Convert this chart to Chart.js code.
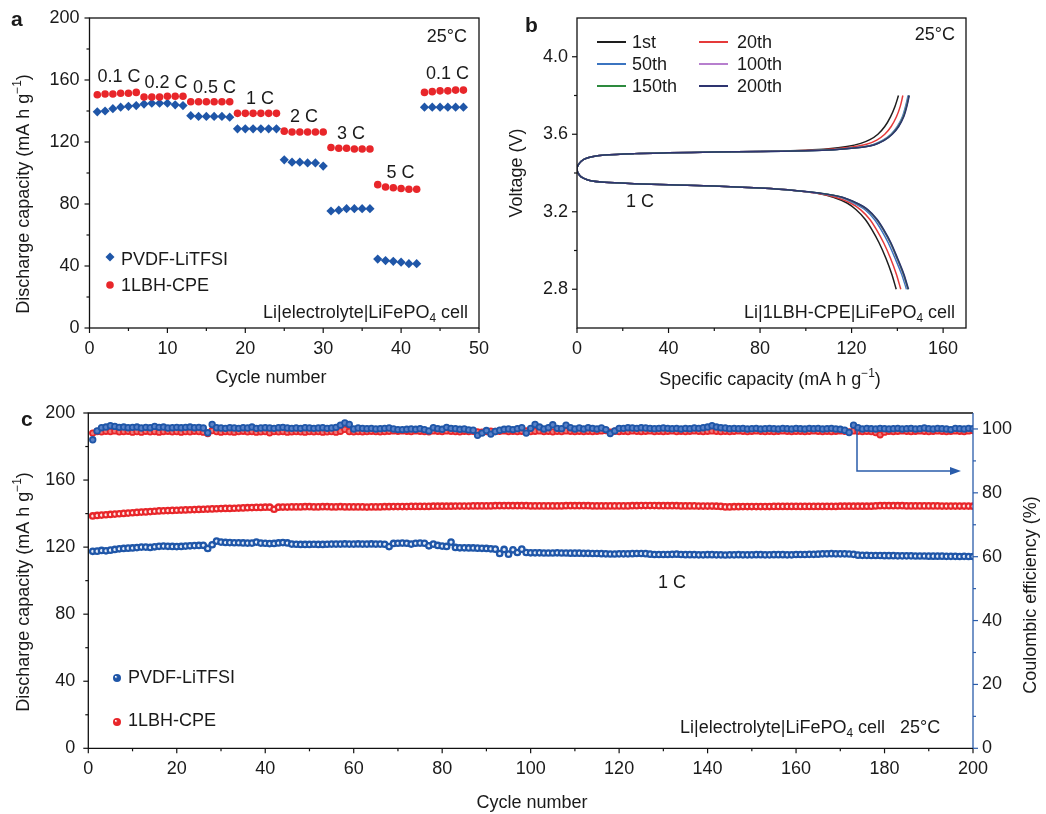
<!DOCTYPE html>
<html><head><meta charset="utf-8">
<script src="https://cdn.jsdelivr.net/npm/chart.js@4.4.1/dist/chart.umd.min.js"></script>
<style>
html,body{margin:0;padding:0;background:#fff;width:1046px;height:814px;overflow:hidden;}
canvas{position:absolute;}
#ca{left:0;top:0;} #cb{left:505px;top:0;} #cc{left:0;top:400px;}
</style></head><body>
<canvas id="ca" width="505" height="400"></canvas>
<canvas id="cb" width="541" height="400"></canvas>
<canvas id="cc" width="1046" height="414"></canvas>
<script>
// ---------------- DATA ----------------
// Panel a: rate capability
const cyclesA = [1,2,3,4,5,6,7,8,9,10,11,12,13,14,15,16,17,18,19,20,21,22,23,24,25,26,27,28,29,30,31,32,33,34,35,36,37,38,39,40,41,42,43,44,45,46,47,48];
const pvdfRate = [139.5,140.0,141.5,142.5,143.0,143.5, 144.5,145.0,145.0,145.0,144.0,143.5, 137.0,136.5,136.5,136.5,136.5,136.0, 128.5,128.5,128.5,128.5,128.5,128.5, 108.5,107.0,107.0,106.5,106.5,104.5, 75.5,76.0,77.0,77.0,77.0,77.0, 44.5,43.5,43.0,42.5,41.5,41.5, 142.5,142.5,142.5,142.5,142.5,142.5];
const lbhRate = [150.5,151.0,151.0,151.5,151.5,152.0, 149.0,149.0,149.0,149.5,149.5,149.5, 146.0,146.0,146.0,146.0,146.0,146.0, 138.5,138.5,138.5,138.5,138.5,138.5, 127.0,126.5,126.5,126.5,126.5,126.5, 116.5,116.0,116.0,115.5,115.5,115.5, 92.5,91.0,90.5,90.0,89.5,89.5, 152.0,152.5,153.0,153.0,153.5,153.5];
const rateLabels = ['0.1 C','0.2 C','0.5 C','1 C','2 C','3 C','5 C','0.1 C'];

// Panel b: charge/discharge profiles (capacity, voltage)
const vDis = [3.42,3.39,3.372,3.36,3.352,3.345,3.339,3.333,3.322,3.31,3.295,3.275,3.245,3.21,3.16,3.105,3.04,2.96,2.88,2.80];
const capDis1 = [0,1,3,6,12,25,40,60,80,95,105,112,118,122,126,129,132,135,137.5,139.5];
const capDis20 = [0,1,3,6,12,25,40,60,80,95,105,113,119.5,124,128,131,134,137,139.5,141.5];
const capDis50 = [0,1,3,6,12,25,40,60,80,95,106,115,121,126,130,133,136,139,141.8,144.0];
const capDis100 = [0,1,3,6,12,25,40,60,80,95,106.5,115.5,121.8,126.8,130.8,133.8,136.8,139.7,142.4,144.5];
const capDis150 = [0,1,3,6,12,25,40,60,80,95,106.5,115.8,122,127,131,134,137,139.9,142.6,144.7];
const capDis200 = [0,1,3,6,12,25,40,60,80,95,106.5,116,122.2,127.2,131.2,134.2,137.2,140.1,142.8,144.9];
const vCha1 = [3.42,3.45,3.47,3.483,3.493,3.5,3.504,3.508,3.511,3.518,3.525,3.537,3.553,3.572,3.6,3.64,3.69,3.745,3.80];
const capCha1 = [0,1,3,6,12,25,40,60,80,100,110,118,124,128,131.5,134.5,137,139,140.5];
const vCha20 = [3.42,3.45,3.47,3.483,3.493,3.5,3.504,3.508,3.511,3.516,3.522,3.533,3.548,3.57,3.6,3.64,3.69,3.745,3.80];
const capCha20 = [0,1,3,6,12,25,40,60,80,100,110,119.5,126.5,131,134.5,137.3,139.6,141.3,142.4];
const vChaLate = [3.42,3.45,3.47,3.483,3.493,3.5,3.504,3.508,3.511,3.515,3.52,3.53,3.545,3.568,3.6,3.64,3.69,3.745,3.80];
const capCha50 = [0,1,3,6,12,25,40,60,80,100,112,121.5,129,133.5,137.2,140,142.2,143.6,144.7];
const capCha100 = [0,1,3,6,12,25,40,60,80,100,112,122,129.5,134,137.5,140.3,142.5,143.9,145.0];
const capCha150 = [0,1,3,6,12,25,40,60,80,100,112,122.1,129.6,134.1,137.6,140.4,142.6,144.0,145.1];
const capCha200 = [0,1,3,6,12,25,40,60,80,100,112.5,122.3,129.8,134.3,137.8,140.6,142.8,144.2,145.2];
const profileNames = ['1st','20th','50th','100th','150th','200th'];

// Panel c: long cycling at 1 C
const cyclesC = Array.from({length:200}, (_, i) => i + 1);
const pvdfCap = [
117.5,117.6,118.0,117.8,118.2,118.6,119.0,119.2,119.4,119.5,
119.7,120.0,120.0,119.8,120.2,120.5,120.6,120.5,120.4,120.3,
120.4,120.6,120.8,120.9,121.0,121.1,119.2,121.4,123.6,123.0,
122.8,122.7,122.6,122.6,122.5,122.4,122.4,123.0,122.4,122.3,
122.1,122.2,122.5,122.7,122.5,121.8,121.7,121.6,121.6,121.6,
121.7,121.6,121.6,121.7,121.8,121.8,121.8,121.9,121.8,121.8,
121.9,121.8,121.8,121.9,121.8,121.8,121.7,120.3,122.2,122.3,
122.4,122.3,121.8,122.3,122.4,122.3,120.8,121.8,121.0,120.6,
120.4,123.0,119.8,119.6,119.6,119.5,119.5,119.4,119.3,119.2,
119.0,118.8,116.2,118.6,115.8,118.4,116.8,118.8,116.8,116.6,
116.6,116.6,116.5,116.5,116.5,116.6,116.5,116.5,116.4,116.4,
116.4,116.3,116.3,116.2,116.2,116.1,116.0,115.9,115.9,116.0,
116.0,116.0,116.1,116.2,116.2,116.1,115.8,115.6,115.6,115.6,
115.6,115.7,115.8,115.6,115.5,115.5,115.5,115.4,115.4,115.5,
115.5,115.4,115.4,115.3,115.4,115.4,115.5,115.4,115.4,115.4,
115.5,115.5,115.4,115.4,115.5,115.5,115.5,115.4,115.4,115.6,
115.6,115.6,115.7,115.7,115.8,116.0,116.0,116.1,116.0,116.0,
116.0,115.9,115.7,115.2,115.1,115.1,115.0,115.0,115.0,114.9,
114.9,114.9,114.8,114.8,114.8,114.8,114.7,114.7,114.7,114.6,
114.6,114.6,114.6,114.5,114.5,114.5,114.4,114.5,114.4,114.4];
const lbhCap = [
138.6,138.9,139.1,139.3,139.5,139.7,139.9,140.1,140.3,140.5,
140.7,140.9,141.0,141.2,141.4,141.6,141.7,141.8,141.9,142.0,
142.1,142.2,142.3,142.4,142.5,142.6,142.7,142.8,142.9,143.0,
143.1,143.1,143.2,143.3,143.4,143.5,143.6,143.7,143.7,143.8,
143.8,142.6,143.8,143.9,143.9,144.0,144.0,144.0,144.1,144.1,
144.0,144.0,144.1,144.1,144.0,144.0,144.1,144.0,144.0,144.0,
144.0,144.0,143.9,144.0,144.0,144.0,144.1,144.1,144.2,144.2,
144.2,144.2,144.3,144.3,144.3,144.3,144.3,144.4,144.4,144.4,
144.4,144.4,144.5,144.5,144.5,144.5,144.6,144.6,144.6,144.6,
144.6,144.7,144.7,144.7,144.7,144.7,144.7,144.7,144.7,144.6,
144.6,144.6,144.6,144.6,144.6,144.6,144.6,144.7,144.7,144.7,
144.7,144.7,144.7,144.6,144.6,144.6,144.6,144.6,144.6,144.6,
144.6,144.6,144.7,144.7,144.8,144.8,144.8,144.8,144.7,144.7,
144.7,144.7,144.7,144.6,144.6,144.6,144.6,144.5,144.5,144.5,
144.5,144.4,144.3,144.0,144.0,144.1,144.1,144.2,144.2,144.2,
144.2,144.2,144.2,144.2,144.3,144.3,144.3,144.3,144.3,144.3,
144.3,144.3,144.3,144.3,144.3,144.3,144.3,144.3,144.3,144.4,
144.4,144.4,144.4,144.4,144.4,144.4,144.4,144.6,144.7,144.7,
144.7,144.7,144.7,144.7,144.6,144.6,144.6,144.6,144.6,144.6,
144.6,144.6,144.5,144.5,144.5,144.5,144.5,144.5,144.5,144.4];
const pvdfCE = [
96.6,99.4,100.4,100.6,101.0,100.8,100.5,100.6,100.4,100.5,
100.6,100.3,100.5,100.4,100.8,100.5,100.6,100.3,100.4,100.5,
100.4,100.5,100.6,100.4,100.5,100.3,98.8,101.4,100.4,100.3,
100.2,100.4,100.3,100.2,100.4,100.3,100.6,100.2,100.3,100.4,
100.3,100.2,100.4,100.5,100.3,100.2,100.3,100.2,100.4,100.3,
100.2,100.3,100.4,100.2,100.3,100.5,101.2,101.9,101.4,100.0,
100.3,100.2,100.1,100.2,100.0,100.1,100.2,100.3,100.0,99.8,
99.8,99.9,100.0,99.9,100.1,99.8,99.4,100.4,100.1,99.9,
100.5,100.2,100.1,99.9,100.0,99.7,99.6,98.0,98.7,99.5,
98.4,99.2,99.6,99.9,100.0,99.8,100.1,100.4,98.7,100.2,
101.4,100.6,100.0,100.4,101.3,100.2,100.1,101.2,100.4,100.0,
100.3,100.0,100.4,100.2,100.0,100.3,99.8,98.6,99.4,100.2,
100.2,100.4,100.3,100.2,100.4,100.3,100.2,100.1,100.2,100.3,
100.2,100.1,100.2,100.0,100.2,100.1,100.3,100.2,100.4,100.6,
101.0,100.6,100.4,100.3,100.1,100.2,100.1,100.2,100.0,100.1,
100.2,100.0,100.1,100.2,100.1,100.0,100.2,100.1,100.0,100.2,
100.1,100.0,100.2,100.1,100.2,100.0,100.1,100.2,100.0,99.9,
99.6,98.9,101.2,100.4,100.0,100.2,100.1,100.0,100.2,100.1,
100.0,100.1,100.2,100.0,100.1,100.2,100.0,100.1,100.3,100.1,
100.0,100.2,100.1,100.0,99.8,100.2,100.1,100.0,100.2,100.1];
const lbhCE = [
98.7,99.2,99.1,99.3,99.2,99.4,99.1,99.2,99.3,99.0,
99.2,99.0,99.3,99.1,99.2,99.0,99.2,99.3,99.1,99.2,
99.0,99.2,99.1,99.3,99.2,99.0,98.6,99.5,99.2,99.0,
99.2,99.1,99.0,99.2,99.3,99.1,99.2,99.0,99.1,99.2,
98.8,99.2,99.1,99.2,99.0,99.1,99.2,99.1,99.0,99.2,
99.1,99.2,99.0,99.1,99.2,99.0,99.3,99.9,99.2,99.1,
99.2,99.1,99.2,99.3,99.2,99.1,99.2,99.3,99.4,99.3,
99.4,99.3,99.2,99.4,99.3,99.2,99.1,99.4,99.3,99.2,
99.4,99.3,99.2,99.1,99.3,99.2,99.3,99.1,99.0,99.2,
99.3,99.2,99.3,99.4,99.2,99.3,99.2,99.3,99.4,99.2,
99.3,99.4,99.2,99.3,99.1,99.3,99.2,99.4,99.3,99.2,
99.3,99.2,99.3,99.2,99.3,99.4,99.5,99.0,99.3,99.2,
99.3,99.2,99.4,99.3,99.2,99.3,99.4,99.2,99.3,99.2,
99.3,99.4,99.2,99.3,99.2,99.3,99.4,99.3,99.2,99.3,
99.4,99.3,99.2,99.3,99.2,99.3,99.4,99.3,99.2,99.3,
99.4,99.3,99.2,99.3,99.2,99.3,99.4,99.3,99.2,99.3,
99.3,99.2,99.3,99.4,99.3,99.2,99.3,99.2,99.3,99.4,
99.3,99.1,99.4,99.3,99.2,99.3,99.2,98.9,98.2,99.0,
99.3,99.2,99.3,99.4,99.3,99.2,99.3,99.4,99.3,99.2,
99.3,99.4,99.3,99.2,99.3,99.4,99.3,99.2,99.4,99.5];
const seriesNames = ['PVDF-LiTFSI','1LBH-CPE'];

// ---------------- STYLE / HELPERS ----------------
const FONT = '"Liberation Sans", Arial, Helvetica, sans-serif';
const TXT = '#1a1a1a';
const BLUE = '#1f56a8', RED = '#e8262a', AXBLUE = '#2a5caa';
Chart.defaults.font.family = FONT;
Chart.defaults.font.size = 18;
Chart.defaults.color = TXT;

function fnt(sz, bold){ return (bold ? 'bold ' : '') + sz + 'px ' + FONT; }
function drawRich(ctx, segs, x, y, o){
  o = o || {};
  const size = o.size || 18;
  ctx.save();
  ctx.translate(x, y);
  if (o.rot) ctx.rotate(o.rot);
  let w = 0;
  for (const s of segs){ ctx.font = fnt((s.sub||s.sup) ? size*0.66 : size, o.bold); w += ctx.measureText(s.t).width; }
  let cx = o.align === 'center' ? -w/2 : (o.align === 'right' ? -w : 0);
  ctx.textBaseline = 'middle'; ctx.textAlign = 'left'; ctx.fillStyle = o.color || TXT;
  for (const s of segs){
    ctx.font = fnt((s.sub||s.sup) ? size*0.66 : size, o.bold);
    const dy = s.sub ? size*0.32 : (s.sup ? -size*0.33 : 0);
    ctx.fillText(s.t, cx, dy);
    cx += ctx.measureText(s.t).width;
  }
  ctx.restore();
}
function drawTicks(chart, id, isMajor, isMinor, side, color){
  const sc = chart.scales[id], ctx = chart.ctx, a = chart.chartArea;
  ctx.save(); ctx.strokeStyle = color || '#111'; ctx.lineWidth = 1.2;
  sc.ticks.forEach(t => {
    const v = t.value; let len;
    if (isMajor(v)) len = 5; else if (isMinor(v)) len = 3; else return;
    const p = sc.getPixelForValue(v);
    ctx.beginPath();
    if (side === 'bottom'){ ctx.moveTo(p, a.bottom); ctx.lineTo(p, a.bottom + len); }
    else if (side === 'left'){ ctx.moveTo(a.left, p); ctx.lineTo(a.left - len, p); }
    else { ctx.moveTo(a.right, p); ctx.lineTo(a.right + len, p); }
    ctx.stroke();
  });
  ctx.restore();
}
function frame(ctx, a, col){
  ctx.save(); ctx.strokeStyle = col || '#111'; ctx.lineWidth = 1.3;
  ctx.strokeRect(a.left, a.top, a.right - a.left, a.bottom - a.top); ctx.restore();
}
function ball(ctx, x, y, r, col){
  const g = ctx.createRadialGradient(x - r*0.35, y - r*0.35, 0.3, x, y, r);
  g.addColorStop(0, '#ffffff'); g.addColorStop(0.35, col); g.addColorStop(1, col);
  ctx.save(); ctx.fillStyle = g; ctx.beginPath(); ctx.arc(x, y, r, 0, Math.PI*2); ctx.fill(); ctx.restore();
}
const noGrid = {display:false, drawTicks:false};
const noBorder = {display:false};
const fitV = w => s => { s.width = w; s.paddingTop = 0; s.paddingBottom = 0; };
const fitH = h => s => { s.height = h; s.paddingLeft = 0; s.paddingRight = 0; };
const lfp = (pre, post) => [{t:pre + 'LiFePO'}, {t:'4', sub:true}, {t:post}];
const capTitle = [{t:'Discharge capacity (mA h g'}, {t:'\u22121', sup:true}, {t:')'}];
const common = {responsive:false, animation:false, devicePixelRatio:1, events:[],
  plugins:{legend:{display:false}, tooltip:{enabled:false}}};

// ---------------- PANEL A ----------------
const decoA = {id:'decoA', afterDraw(chart){
  const ctx = chart.ctx, a = chart.chartArea;
  frame(ctx, a);
  drawTicks(chart, 'x', v => v % 10 === 0, v => v % 5 === 0, 'bottom');
  drawTicks(chart, 'y', v => v % 40 === 0, v => v % 20 === 0, 'left');
  drawRich(ctx, [{t:'a'}], 11, 20, {size:21, bold:true});
  drawRich(ctx, capTitle, 24, 194, {rot:-Math.PI/2, align:'center'});
  drawRich(ctx, [{t:'Cycle number'}], 271, 378, {align:'center'});
  drawRich(ctx, [{t:'25\u00B0C'}], 467, 37, {align:'right'});
  const pos = [[119,77],[166,83],[214.5,88],[260,99],[304,117],[351,134],[400.5,173],[447.5,74]];
  rateLabels.forEach((t,i) => drawRich(ctx, [{t}], pos[i][0], pos[i][1], {align:'center'}));
  // legend
  ctx.save(); ctx.fillStyle = BLUE; ctx.beginPath();
  ctx.moveTo(110, 252.5); ctx.lineTo(114.5, 257); ctx.lineTo(110, 261.5); ctx.lineTo(105.5, 257); ctx.closePath(); ctx.fill();
  ctx.fillStyle = RED; ctx.beginPath(); ctx.arc(110, 285, 3.8, 0, Math.PI*2); ctx.fill(); ctx.restore();
  drawRich(ctx, [{t:seriesNames[0]}], 121, 260, {});
  drawRich(ctx, [{t:seriesNames[1]}], 121, 286, {});
  drawRich(ctx, lfp('Li|electrolyte|', ' cell'), 468, 313, {align:'right'});
}};
new Chart(document.getElementById('ca'), {
  type:'scatter',
  data:{datasets:[
    {label:seriesNames[1], data:cyclesA.map((c,i)=>({x:c, y:lbhRate[i]})), pointStyle:'circle', pointRadius:3.8, borderWidth:0, backgroundColor:RED, borderColor:RED},
    {label:seriesNames[0], data:cyclesA.map((c,i)=>({x:c, y:pvdfRate[i]})), pointStyle:'rectRot', pointRadius:4.6, borderWidth:0, backgroundColor:BLUE, borderColor:BLUE}
  ]},
  options:Object.assign({}, common, {
    layout:{padding:{left:0, top:18, right:26, bottom:0}},
    scales:{
      x:{type:'linear', min:0, max:50, grid:noGrid, border:noBorder,
         ticks:{stepSize:5, autoSkip:false, maxRotation:0, padding:10, callback:v => v % 10 === 0 ? String(v) : ''},
         afterFit:fitH(72)},
      y:{type:'linear', min:0, max:200, grid:noGrid, border:noBorder,
         ticks:{stepSize:20, autoSkip:false, padding:10, callback:v => v % 40 === 0 ? String(v) : ''},
         afterFit:fitV(89.5)}
    }
  }),
  plugins:[decoA]
});

// ---------------- PANEL B ----------------
const profColors = ['#1e1e1e', '#e53a3a', '#3b74c0', '#b77fce', '#2d8a3e', '#2e3470'];
function loop(dCap, dV, cCap, cV){
  const pts = [];
  for (let i = dCap.length - 1; i >= 0; i--) pts.push({x:dCap[i], y:dV[i]});
  for (let i = 1; i < cCap.length; i++) pts.push({x:cCap[i], y:cV[i]});
  return pts;
}
const profData = [
  loop(capDis1, vDis, capCha1, vCha1),
  loop(capDis20, vDis, capCha20, vCha20),
  loop(capDis50, vDis, capCha50, vChaLate),
  loop(capDis100, vDis, capCha100, vChaLate),
  loop(capDis150, vDis, capCha150, vChaLate),
  loop(capDis200, vDis, capCha200, vChaLate)
];
const decoB = {id:'decoB', afterDraw(chart){
  const ctx = chart.ctx, a = chart.chartArea, X = -505;
  frame(ctx, a);
  drawTicks(chart, 'x', v => v % 40 === 0 && v <= 160, v => v % 20 === 0 && v <= 160, 'bottom');
  drawTicks(chart, 'y', v => Math.round(v*10) % 4 === 0, v => Math.round(v*10) % 2 === 0 && v > 2.65 && v < 4.15, 'left');
  drawRich(ctx, [{t:'b'}], 525 + X, 26, {size:21, bold:true});
  drawRich(ctx, [{t:'Voltage (V)'}], 517 + X, 173, {rot:-Math.PI/2, align:'center'});
  drawRich(ctx, [{t:'Specific capacity (mA h g'}, {t:'\u22121', sup:true}, {t:')'}], 770 + X, 380, {align:'center'});
  drawRich(ctx, [{t:'25\u00B0C'}], 955 + X, 35, {align:'right'});
  drawRich(ctx, [{t:'1 C'}], 640 + X, 202, {align:'center'});
  drawRich(ctx, [{t:'Li|1LBH-CPE|LiFePO'}, {t:'4', sub:true}, {t:' cell'}], 955 + X, 313, {align:'right'});
  const cols = [[597, 632], [699, 737]], rows = [42, 64, 86];
  profileNames.forEach((n, i) => {
    const c = cols[i % 2], r = rows[Math.floor(i / 2)];
    ctx.save(); ctx.strokeStyle = profColors[i]; ctx.lineWidth = 2;
    ctx.beginPath(); ctx.moveTo(c[0] + X, r); ctx.lineTo(c[0] + 29 + X, r); ctx.stroke(); ctx.restore();
    drawRich(ctx, [{t:n}], c[1] + X, r + 1, {});
  });
}};
new Chart(document.getElementById('cb'), {
  type:'scatter',
  data:{datasets: profData.map((d, i) => ({
    label:profileNames[i], data:d, showLine:true, pointRadius:0, borderWidth:1.5,
    borderColor:profColors[i], backgroundColor:profColors[i], tension:0.3, order:5 - i
  }))},
  options:Object.assign({}, common, {
    layout:{padding:{left:0, top:18, right:80, bottom:0}},
    scales:{
      x:{type:'linear', min:0, max:170, grid:noGrid, border:noBorder,
         ticks:{stepSize:10, autoSkip:false, maxRotation:0, padding:10, callback:v => (v % 40 === 0 && v <= 160) ? String(v) : ''},
         afterFit:fitH(72)},
      y:{type:'linear', min:2.6, max:4.2, grid:noGrid, border:noBorder,
         ticks:{stepSize:0.2, autoSkip:false, padding:9, callback:v => (Math.round(v*10) % 4 === 0) ? v.toFixed(1) : ''},
         afterFit:fitV(72)}
    }
  }),
  plugins:[decoB]
});

// ---------------- PANEL C ----------------
const decoC = {id:'decoC', afterDraw(chart){
  const ctx = chart.ctx, a = chart.chartArea, Y = -400;
  ctx.save(); ctx.lineWidth = 1.3; ctx.strokeStyle = '#111';
  ctx.beginPath(); ctx.moveTo(a.right, a.top); ctx.lineTo(a.left, a.top); ctx.lineTo(a.left, a.bottom); ctx.lineTo(a.right, a.bottom); ctx.stroke();
  ctx.strokeStyle = AXBLUE; ctx.beginPath(); ctx.moveTo(a.right, a.top); ctx.lineTo(a.right, a.bottom); ctx.stroke();
  ctx.restore();
  drawTicks(chart, 'x', v => v % 20 === 0, v => v % 10 === 0, 'bottom');
  drawTicks(chart, 'y', v => v % 40 === 0, v => v % 20 === 0, 'left');
  drawTicks(chart, 'y2', v => v % 20 === 0 && v <= 100, v => v % 10 === 0 && v <= 100, 'right', AXBLUE);
  drawRich(ctx, [{t:'c'}], 21, 420 + Y, {size:21, bold:true});
  drawRich(ctx, capTitle, 24, 592 + Y, {rot:-Math.PI/2, align:'center'});
  drawRich(ctx, [{t:'Coulombic efficiency (%)'}], 1031, 595 + Y, {rot:-Math.PI/2, align:'center'});
  drawRich(ctx, [{t:'Cycle number'}], 532, 803 + Y, {align:'center'});
  drawRich(ctx, [{t:'1 C'}], 672, 583 + Y, {align:'center'});
  drawRich(ctx, [{t:'Li|electrolyte|LiFePO'}, {t:'4', sub:true}, {t:' cell   25\u00B0C'}], 680, 728 + Y, {});
  ball(ctx, 117, 678 + Y, 4, BLUE);
  ball(ctx, 117, 722 + Y, 4, RED);
  drawRich(ctx, [{t:seriesNames[0]}], 128, 678 + Y, {});
  drawRich(ctx, [{t:seriesNames[1]}], 128, 721 + Y, {});
  // arrow pointing to right axis
  ctx.save(); ctx.strokeStyle = AXBLUE; ctx.fillStyle = AXBLUE; ctx.lineWidth = 1.5;
  ctx.beginPath(); ctx.moveTo(857, 430 + Y); ctx.lineTo(857, 471 + Y); ctx.lineTo(951, 471 + Y); ctx.stroke();
  ctx.beginPath(); ctx.moveTo(961, 471 + Y); ctx.lineTo(950, 467 + Y); ctx.lineTo(950, 475 + Y); ctx.closePath(); ctx.fill();
  ctx.restore();
}};
const ptStyle = (col, fill, r, bw) => ({showLine:false, pointStyle:'circle', pointRadius:r, borderWidth:bw, borderColor:col, backgroundColor:fill});
new Chart(document.getElementById('cc'), {
  type:'scatter',
  data:{datasets:[
    Object.assign({label:seriesNames[0] + ' CE', yAxisID:'y2', data:cyclesC.map((c,i)=>({x:c, y:pvdfCE[i]}))}, ptStyle(BLUE, '#5a82c8', 2.8, 1.8)),
    Object.assign({label:seriesNames[1] + ' CE', yAxisID:'y2', data:cyclesC.map((c,i)=>({x:c, y:lbhCE[i]}))}, ptStyle(RED, '#ee7a7a', 2.8, 1.8)),
    Object.assign({label:seriesNames[0], yAxisID:'y', data:cyclesC.map((c,i)=>({x:c, y:pvdfCap[i]}))}, ptStyle(BLUE, '#e4ebf7', 2.7, 2.3)),
    Object.assign({label:seriesNames[1], yAxisID:'y', data:cyclesC.map((c,i)=>({x:c, y:lbhCap[i]}))}, ptStyle(RED, '#fde8e8', 2.7, 2.3))
  ]},
  options:Object.assign({}, common, {
    layout:{padding:{left:0, top:13, right:0, bottom:0}},
    scales:{
      x:{type:'linear', min:0, max:200, grid:noGrid, border:noBorder,
         ticks:{stepSize:10, autoSkip:false, maxRotation:0, padding:10, callback:v => v % 20 === 0 ? String(v) : ''},
         afterFit:fitH(65.7)},
      y:{type:'linear', position:'left', min:0, max:200, grid:noGrid, border:noBorder,
         ticks:{stepSize:20, autoSkip:false, padding:13, callback:v => v % 40 === 0 ? String(v) : ''},
         afterFit:fitV(88.3)},
      y2:{type:'linear', position:'right', min:0, max:105, grid:noGrid, border:noBorder,
         ticks:{stepSize:5, autoSkip:false, padding:9, callback:v => (v % 20 === 0 && v <= 100) ? String(v) : ''},
         afterFit:fitV(73)}
    }
  }),
  plugins:[decoC]
});
</script>
</body></html>
